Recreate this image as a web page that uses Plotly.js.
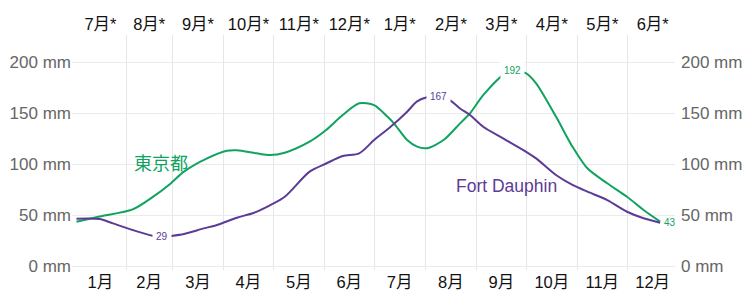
<!DOCTYPE html>
<html>
<head>
<meta charset="utf-8">
<script src="https://cdn.plot.ly/plotly-3.0.1.min.js"></script>
<style>
html,body{margin:0;padding:0;background:#fff;}
#chart{width:753px;height:293px;}
</style>
</head>
<body>
<div id="chart"></div>
<script>
// Day-of-year positions and monthly-smoothed precipitation (mm)
const tokyoDays = [1, 15, 35, 47, 58, 66, 80, 92, 98, 110, 118, 127, 142, 152, 162, 172, 181, 189, 193, 201, 207, 213, 223, 233, 239, 247, 259, 265, 273, 279, 291, 301, 310, 322, 334, 344, 354];
const tokyo = [44, 49, 56, 68, 81.5, 93, 106, 113.5, 114, 111, 109.3, 111.6, 122.4, 133.8, 148.5, 160, 158.3, 147, 140.4, 124, 117.5, 116, 124, 140.4, 150.2, 168, 187.7, 192, 189.4, 179.6, 147, 117.5, 96.3, 81.6, 68.4, 55.4, 44];

const fortDays = [1, 15, 23, 35, 47, 53, 58, 66, 78, 86, 98, 108, 118, 127, 142, 152, 162, 172, 181, 191, 201, 207, 213, 220, 227, 233, 239, 247, 259, 273, 279, 291, 301, 310, 322, 334, 344, 354];
const fortDauphin = [46.9, 46.5, 42.3, 35.8, 30.2, 29, 29.9, 31.9, 37.4, 40.7, 47.9, 52.5, 60, 68.4, 93, 101, 108.3, 111, 124, 137, 151.8, 162, 166, 167, 163, 155, 148.5, 137, 125.7, 112.5, 106, 89.7, 80, 73.4, 65.2, 53.7, 47.3, 42.9];

const monthStarts = [31, 59, 90, 120, 151, 181, 212, 243, 273, 304, 334];
const monthMids = [15.5, 45, 74.5, 105, 135.5, 166, 196.5, 227.5, 258, 288.5, 319, 349.5];
const bottomLabels = ["1月", "2月", "3月", "4月", "5月", "6月", "7月", "8月", "9月", "10月", "11月", "12月"];
const topLabels = ["7月*", "8月*", "9月*", "10月*", "11月*", "12月*", "1月*", "2月*", "3月*", "4月*", "5月*", "6月*"];
const yTicks = [0, 50, 100, 150, 200];
const yTickText = ["0 mm", "50 mm", "100 mm", "150 mm", "200 mm"];

// Value labels
const labelX = [53, 220, 265];
const labelY = [29, 167, 192];
const labelText = ["29", "167", "192"];

const GREEN = "#10a35f";
const PURPLE = "#5c3b97";
const FONT = "Liberation Sans, Noto Sans CJK JP, sans-serif";
const XR = [-1.7, 363];
const YR = [-3.4, 227];

const traces = [
  {x: tokyoDays, y: tokyo, type: "scatter", mode: "lines", line: {color: GREEN, width: 2, shape: "spline", smoothing: 0.8}, hoverinfo: "skip"},
  {x: fortDays, y: fortDauphin, type: "scatter", mode: "lines", line: {color: PURPLE, width: 2, shape: "spline", smoothing: 0.8}, hoverinfo: "skip"},
  {x: [XR[0]], y: [0], xaxis: "x2", yaxis: "y2", mode: "markers", marker: {opacity: 0}, hoverinfo: "skip"}
];

const labelColors = [PURPLE, PURPLE, GREEN];
const annotations = labelX.map((x, i) => ({
  x: x, y: labelY[i], text: labelText[i], showarrow: false,
  font: {family: FONT, size: 10, color: labelColors[i]},
  bgcolor: "#ffffff", borderpad: 3
}));
annotations.push({x: tokyoDays[tokyoDays.length - 1], y: 43, text: "43", showarrow: false, xanchor: "left", xshift: 2,
  font: {family: FONT, size: 10, color: GREEN}});
annotations.push({x: 52, y: 101, text: "東京都", showarrow: false, font: {family: FONT, size: 18, color: GREEN}});
annotations.push({x: 261, y: 79, text: "Fort Dauphin", showarrow: false, font: {family: FONT, size: 17.5, color: PURPLE}});

const layout = {
  width: 753, height: 293,
  margin: {l: 72, r: 78, t: 35, b: 23, pad: 0},
  paper_bgcolor: "#fff", plot_bgcolor: "#fff",
  showlegend: false,
  font: {family: FONT},
  xaxis: {
    range: XR, tickvals: monthMids, ticktext: bottomLabels, showgrid: false, zeroline: false,
    ticks: "", showline: false, tickfont: {family: FONT, size: 16.5, color: "#111"},
    minor: {tickvals: monthStarts, showgrid: true, gridcolor: "#e6e6e6", gridwidth: 1, ticks: ""},
    fixedrange: true
  },
  xaxis2: {
    range: XR, overlaying: "x", side: "top", tickvals: monthMids, ticktext: topLabels, showgrid: false,
    zeroline: false, ticks: "", ticklabelstandoff: 1, tickfont: {family: FONT, size: 16.5, color: "#111"}, fixedrange: true
  },
  yaxis: {
    range: YR, tickvals: yTicks, ticktext: yTickText, showgrid: true, gridcolor: "#ebebeb", zeroline: false,
    ticks: "", tickfont: {family: FONT, size: 17, color: "#666"}, fixedrange: true
  },
  yaxis2: {
    range: YR, overlaying: "y", side: "right", tickvals: yTicks, ticktext: yTickText, showgrid: false,
    zeroline: false, ticks: "", ticklabelstandoff: 5, tickfont: {family: FONT, size: 17, color: "#666"}, fixedrange: true
  },
  annotations: annotations
};

Plotly.newPlot("chart", traces, layout, {staticPlot: true, displayModeBar: false});
</script>
</body>
</html>
